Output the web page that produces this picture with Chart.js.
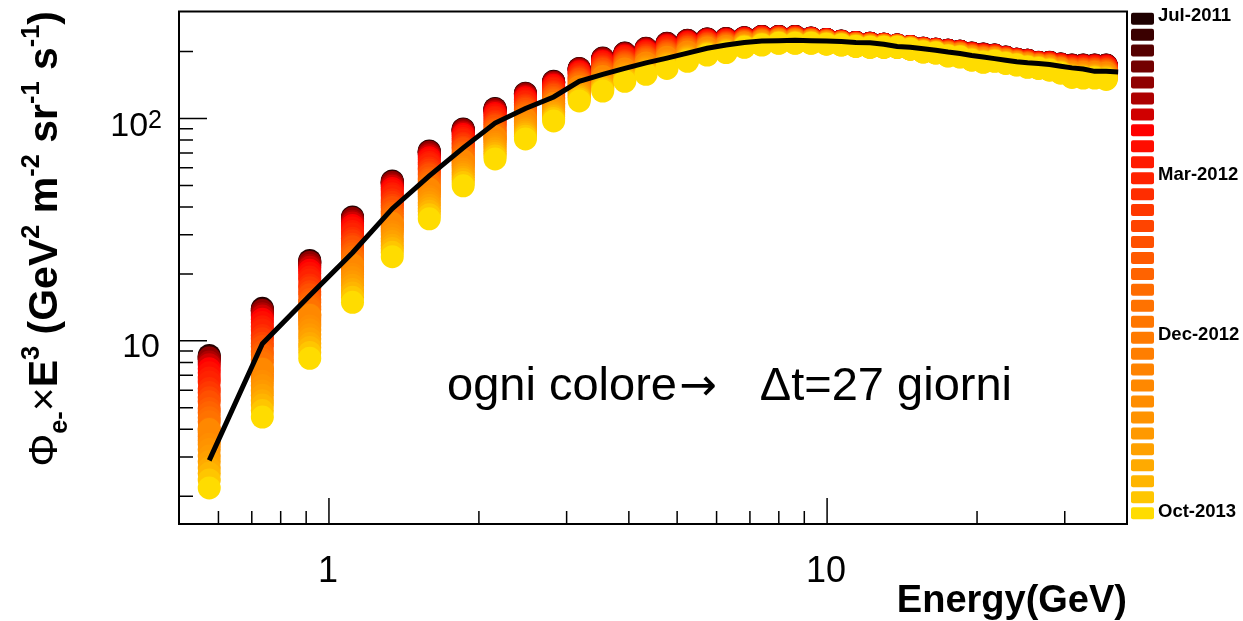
<!DOCTYPE html>
<html>
<head>
<meta charset="utf-8">
<script src="https://cdn.jsdelivr.net/npm/chart.js@4.4.1/dist/chart.umd.min.js"></script>
<style>
  html, body { margin: 0; padding: 0; background: #fff; }
  #wrap { width: 1243px; height: 621px; }
</style>
</head>
<body>
<div id="wrap"><canvas id="c"></canvas></div>
<script>
// energy bin centres (GeV)
const energy = [0.575, 0.735, 0.915, 1.115, 1.34, 1.59, 1.86, 2.155, 2.48, 2.825,
  3.18, 3.545, 3.925, 4.33, 4.77, 5.245, 5.745, 6.27, 6.82, 7.395,
  7.995, 8.625, 9.285, 9.97, 10.68, 11.42, 12.195, 13.0, 13.83, 14.695,
  15.595, 16.525, 17.49, 18.485, 19.515, 20.585, 21.69, 22.835, 24.02, 25.26,
  26.575, 27.965, 29.445, 31.015, 32.675, 34.445, 36.335];

// flux x E^3 of the first period (Jul-2011, top of each column)
const fluxFirst = [8.6, 14.0, 23.0, 36.1, 52.4, 71.5, 89.8, 111, 130, 147,
  168, 187, 197, 207, 218, 225, 228, 229, 231, 234,
  234, 234, 230, 227, 223, 220, 218, 216, 214, 211,
  207, 205, 203, 201, 197, 195, 193, 189, 185, 183,
  179, 179, 176, 174, 174, 174, 174];

// flux x E^3 of the last period (Oct-2013, bottom of each column)
const fluxLast = [2.18, 4.54, 8.35, 14.9, 23.9, 35.4, 49.8, 65.8, 80.9, 97.5,
  120, 133, 147, 158, 168, 181, 193, 198, 209, 214,
  218, 218, 218, 216, 214, 211, 209, 209, 209, 205,
  199, 197, 191, 189, 183, 179, 181, 177, 174, 170,
  168, 165, 160, 153, 152, 152, 150];

// where each 27-day period sits between first and last (read from the 0.57 GeV column)
const periodPosition = [0, 0.01, 0.02, 0.03, 0.02, 0.05, 0.07, 0.10, 0.13, 0.17,
  0.20, 0.25, 0.28, 0.32, 0.35, 0.40, 0.43, 0.47, 0.50, 0.55,
  0.58, 0.61, 0.64, 0.56, 0.67, 0.71, 0.76, 0.80, 0.85, 0.89,
  0.94, 1.00];

const periodColors = ['#1e0000', '#3a0000', '#560000', '#730000', '#900000', '#ad0000',
  '#d00000', '#ff0000', '#ff0d00', '#ff1a00', '#ff2200', '#ff2d00', '#ff3800', '#ff4400',
  '#ff5000', '#ff5a00', '#ff6300', '#ff6c00', '#ff7200', '#ff7600', '#ff7a00', '#ff7e00',
  '#ff8300', '#ff8800', '#ff8d00', '#ff9300', '#ff9900', '#ffa100', '#ffaa00', '#ffb500',
  '#ffc600', '#ffdc00'];

const periodTicks = ['Jul-2011', 'Mar-2012', 'Dec-2012', 'Oct-2013'];
const periodTickIndex = [0, 10, 20, 31];

// black reference curve
const refEnergy = energy.concat([38.4]);
const refFlux = [2.9, 9.7, 16.0, 24.9, 39.3, 55.2, 73.8, 95.4, 111, 125,
  147, 158, 168, 178, 187, 197, 207, 214, 220, 223,
  224, 225, 224, 223, 222, 220, 219, 216, 211, 209,
  206, 203, 199, 196, 192, 189, 186, 183, 180, 178,
  177, 175, 172, 169, 167, 163, 163, 162];

const xMajorTicks = [1, 10];
const xMinorTicks = [0.6, 0.7, 0.8, 0.9, 2, 3, 4, 5, 6, 7, 8, 9, 20, 30];
const yMajorTicks = [10, 100];
const yMinorTicks = [2, 3, 4, 5, 6, 7, 8, 9, 20, 30, 40, 50, 60, 70, 80, 90, 200];

const FONT = '"Liberation Sans", Arial, Helvetica, sans-serif';

const datasets = periodColors.map((col, i) => ({
  type: 'scatter',
  data: energy.map((e, j) => ({
    x: e,
    y: fluxFirst[j] * Math.pow(fluxLast[j] / fluxFirst[j], periodPosition[i])
  })),
  backgroundColor: col,
  borderWidth: 0,
  pointRadius: 11.5,
  pointHoverRadius: 11.5,
  order: 32 - i
}));

datasets.push({
  type: 'line',
  data: refEnergy.map((e, j) => ({ x: e, y: refFlux[j] })),
  borderColor: '#000',
  borderWidth: 5,
  pointRadius: 0,
  tension: 0,
  fill: false,
  order: 0
});

function drawParts(ctx, parts, size, alignRight) {
  const font = p => `${p.w || 'bold'} ${size * (p.s || 1)}px ${FONT}`;
  let total = 0;
  parts.forEach(p => { ctx.font = font(p); total += ctx.measureText(p.t).width; });
  let u = alignRight ? -total : 0;
  parts.forEach(p => {
    ctx.font = font(p);
    ctx.fillText(p.t, u, (p.dy || 0) * size);
    u += ctx.measureText(p.t).width;
  });
  return total;
}

const rootFrame = {
  id: 'rootFrame',
  afterDraw(chart) {
    const { ctx, chartArea: a, scales: { x, y } } = chart;
    ctx.save();
    ctx.strokeStyle = '#000';
    ctx.fillStyle = '#000';

    // ticks inside the frame
    ctx.lineWidth = 1.5;
    ctx.beginPath();
    yMajorTicks.forEach(v => { const p = y.getPixelForValue(v); ctx.moveTo(a.left, p); ctx.lineTo(a.left + 28, p); });
    yMinorTicks.forEach(v => { const p = y.getPixelForValue(v); ctx.moveTo(a.left, p); ctx.lineTo(a.left + 14, p); });
    xMajorTicks.forEach(v => { const p = x.getPixelForValue(v); ctx.moveTo(p, a.bottom); ctx.lineTo(p, a.bottom - 26); });
    xMinorTicks.forEach(v => { const p = x.getPixelForValue(v); ctx.moveTo(p, a.bottom); ctx.lineTo(p, a.bottom - 13); });
    ctx.stroke();

    ctx.lineWidth = 2;
    ctx.strokeRect(a.left, a.top, a.right - a.left, a.bottom - a.top);

    // x labels
    ctx.font = `36px ${FONT}`;
    ctx.textAlign = 'center';
    ctx.textBaseline = 'alphabetic';
    xMajorTicks.forEach(v => ctx.fillText(String(v), x.getPixelForValue(v) - 1, 582));

    // y labels
    ctx.textAlign = 'right';
    const p10 = y.getPixelForValue(10);
    ctx.font = `34px ${FONT}`;
    ctx.fillText('10', 160, p10 + 16.5);
    const p100 = y.getPixelForValue(100);
    ctx.font = `25px ${FONT}`;
    ctx.fillText('2', 162, p100 + 9);
    const w2 = ctx.measureText('2').width;
    ctx.font = `34px ${FONT}`;
    ctx.fillText('10', 162 - w2, p100 + 17.5);

    // x title
    ctx.font = `bold 38px ${FONT}`;
    ctx.textAlign = 'right';
    ctx.fillText('Energy(GeV)', a.right, 612);

    // y title
    ctx.save();
    ctx.textAlign = 'left';
    ctx.translate(57, 11);
    ctx.rotate(-Math.PI / 2);
    drawParts(ctx, [
      { t: 'Φ', w: 'normal' }, { t: 'e-', s: 0.62, dy: 0.24 }, { t: '×', w: 'normal' }, { t: 'E' },
      { t: '3', s: 0.62, dy: -0.45 }, { t: ' (GeV' }, { t: '2', s: 0.62, dy: -0.45 },
      { t: ' m' }, { t: '-2', s: 0.62, dy: -0.45 }, { t: ' sr' }, { t: '-1', s: 0.62, dy: -0.45 },
      { t: ' s' }, { t: '-1', s: 0.62, dy: -0.45 }, { t: ')' }
    ], 41, true);
    ctx.restore();

    // annotation
    ctx.textAlign = 'left';
    ctx.font = `47px ${FONT}`;
    ctx.fillText('ogni colore', 447, 400);
    const wText = ctx.measureText('ogni colore').width;
    ctx.font = `45px "DejaVu Sans", sans-serif`;
    ctx.fillText('→', 447 + wText + 2, 400);
    ctx.font = `47px ${FONT}`;
    ctx.textAlign = 'right';
    ctx.fillText('Δt=27 giorni', 1012, 400);

    // colour key of the periods
    periodColors.forEach((col, i) => {
      ctx.fillStyle = col;
      const top = 12.7 + i * 15.95;
      ctx.beginPath();
      if (ctx.roundRect) ctx.roundRect(1131, top, 23, 12, 2); else ctx.rect(1131, top, 23, 12);
      ctx.fill();
    });
    ctx.fillStyle = '#000';
    ctx.font = `bold 18.5px ${FONT}`;
    ctx.textAlign = 'left';
    ctx.textBaseline = 'middle';
    periodTicks.forEach((t, k) => {
      const i = periodTickIndex[k];
      ctx.fillText(t, 1158, 12.7 + i * 15.95 + 6 - (i === 31 ? 1 : 3));
    });
    ctx.restore();
  }
};

new Chart(document.getElementById('c'), {
  data: { datasets },
  options: {
    responsive: true,
    maintainAspectRatio: false,
    animation: false,
    devicePixelRatio: 1,
    layout: { padding: { left: 179, right: 116, top: 10, bottom: 97 } },
    plugins: { legend: { display: false }, tooltip: { enabled: false } },
    scales: {
      x: { type: 'logarithmic', min: 0.5, max: 40, display: false },
      y: { type: 'logarithmic', min: 1.5, max: 303, display: false }
    }
  },
  plugins: [rootFrame]
});
</script>
</body>
</html>
